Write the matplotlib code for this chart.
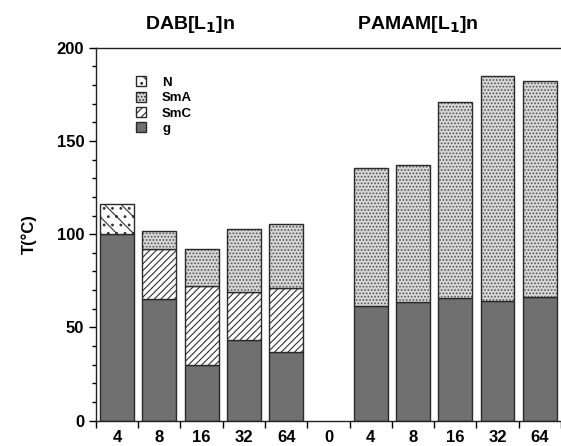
import matplotlib.pyplot as plt
import numpy as np
from matplotlib.patches import Patch

plt.rcParams.update({
    'font.family': 'Liberation Sans',
    'font.weight': 'bold',
    'hatch.linewidth': 0.8,
})

labels = ['4', '8', '16', '32', '64', '0', '4', '8', '16', '32', '64']
# segment heights (°C) per phase, bottom to top
g_vals   = [100, 65, 30, 43, 37, 0, 61.5, 63.5, 66, 64, 66.5]
smc_vals = [0, 27, 42, 26, 34, 0, 0, 0, 0, 0, 0]
sma_vals = [0, 9.5, 20, 33.5, 34.5, 0, 74, 73.5, 105, 121, 115.5]
n_vals   = [16, 0, 0, 0, 0, 0, 0, 0, 0, 0, 0]

fig = plt.figure(figsize=(5.61, 4.46), dpi=100)
ax = fig.add_axes([0.171, 0.057, 0.829, 0.836])

x = np.arange(len(labels))
w = 0.8
edge = '#2a2a2a'
g = np.array(g_vals)
smc = np.array(smc_vals)
sma = np.array(sma_vals)
n = np.array(n_vals)

def draw(vals, bottom, fc, hatch, hc):
    m = vals > 0
    bars = ax.bar(x[m], vals[m], w, bottom=bottom[m], color=fc,
                  edgecolor=hc, hatch=hatch, linewidth=0)
    ax.bar(x[m], vals[m], w, bottom=bottom[m], fill=False,
           edgecolor=edge, linewidth=1.0)
    return bars

draw(g, np.zeros_like(g, dtype=float), '#707070', None, '#707070')
draw(smc, g.astype(float), 'white', '/////', '#333333')
draw(sma, (g + smc).astype(float), '#d6d6d6', '.....', '#555555')
draw(n, (g + smc + sma).astype(float), 'white', '\\\\..', '#333333')

ax.set_xlim(-0.5, 10.5)
ax.set_ylim(0, 200)
ax.set_xticks(np.arange(-0.5, 10.6, 1.0))
ax.set_xticklabels([])
ax.set_xticks(x, minor=True)
ax.set_xticklabels(labels, minor=True, fontsize=12, fontweight='bold')
ax.tick_params(axis='x', which='major', direction='out', length=5, width=1)
ax.tick_params(axis='x', which='minor', length=0, pad=7)
ax.set_yticks([0, 50, 100, 150, 200])
ax.set_yticks(np.arange(0, 201, 10), minor=True)
ax.tick_params(axis='y', which='major', direction='out', length=5, width=1,
               labelsize=12)
ax.tick_params(axis='y', which='minor', direction='out', length=3, width=1)
for lab in ax.get_yticklabels():
    lab.set_fontweight('bold')
ax.spines['right'].set_visible(False)
for s in ['left', 'bottom', 'top']:
    ax.spines[s].set_linewidth(1.0)
    ax.spines[s].set_color('#222222')

ax.set_ylabel('T(°C)', fontsize=12, fontweight='bold', labelpad=14)

handles = [
    Patch(facecolor='white', edgecolor=edge, hatch='\\\\..', label='N'),
    Patch(facecolor='#d6d6d6', edgecolor=edge, hatch='.....', label='SmA'),
    Patch(facecolor='white', edgecolor=edge, hatch='////', label='SmC'),
    Patch(facecolor='#707070', edgecolor=edge, label='g'),
]
ax.legend(handles=handles, loc='upper left', bbox_to_anchor=(0.06, 0.955),
          frameon=False, handlelength=0.8, handleheight=0.8,
          handletextpad=1.2, labelspacing=0.2,
          prop={'size': 9.5, 'weight': 'bold'})

fig.text(0.338, 0.945, 'DAB[L$_\\mathbf{1}$]n', ha='center', va='center',
         fontsize=14, fontweight='bold')
fig.text(0.745, 0.945, 'PAMAM[L$_\\mathbf{1}$]n', ha='center', va='center',
         fontsize=14, fontweight='bold')

fig.savefig('out.png', dpi=100)
